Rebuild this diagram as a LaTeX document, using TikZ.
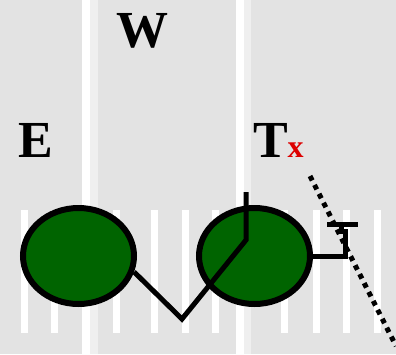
\documentclass[tikz,border=0pt]{standalone}
\usepackage{fontspec}
\setmainfont{Liberation Serif}
\usetikzlibrary{shapes.geometric}
\definecolor{bg}{HTML}{E3E3E3}
\definecolor{lightband}{HTML}{EFEFEF}
\definecolor{ballgreen}{HTML}{006400}
\definecolor{subred}{HTML}{DD0000}
\tikzset{
  ball/.style={ellipse, draw=black, fill=ballgreen, line width=6pt,
    minimum width=111pt, minimum height=96pt, inner sep=0pt},
  wire/.style={line width=5pt, line cap=butt, line join=miter},
  dotline/.style={line width=5pt, dash pattern=on 5pt off 5pt},
  bigletter/.style={anchor=base west, inner sep=0pt, outer sep=0pt,
    font=\bfseries\fontsize{52}{52}\selectfont},
  sublabel/.style={anchor=base west, inner sep=0pt, outer sep=0pt,
    text=subred, font=\bfseries\fontsize{32}{32}\selectfont},
  stripe/.style={fill=white},
}
\begin{document}
\begin{tikzpicture}[x=1pt,y=-1pt]
  \useasboundingbox (0,0) rectangle (396,354);
  % background
  \fill[bg] (0,0) rectangle (396,354);
  \fill[white] (82,0) rectangle (90,354);
  \fill[lightband] (90,0) rectangle (98,354);
  \fill[white] (236,0) rectangle (244,354);
  \fill[lightband] (244,0) rectangle (251,354);
  \foreach \sx in {21,51,113,151,182,212,281,313,343,374}
    \fill[stripe] (\sx,210) rectangle ++(7,123);
  % labels
  \node[bigletter] (W) at (116,47) {W};
  \node[bigletter] (E) at (18,157) {E};
  \node[bigletter] (T) at (253,157) {T};
  \node[sublabel] (X) at (T.base east) {x};
  % balls
  \node[ball] (e1) at (78.5,256) {};
  \node[ball] (e2) at (254.5,256) {};
  % zigzag
  \coordinate (v) at (182,319);
  \coordinate (k) at (246,240);
  \coordinate (ktop) at (246,192);
  \draw[wire] (e1.-16) -- (v) -- (k) -- (ktop);
  % right hook
  \coordinate (h1) at (345,256);
  \coordinate (h2) at (345,231);
  \coordinate (h3) at (341,231);
  \coordinate (h4) at (341,224);
  \coordinate (b1) at (327,224);
  \coordinate (b2) at (358,224);
  \draw[wire] (e2.east) -- (h1) -- (h2) -- (h3) -- (h4);
  \draw[wire] (b1) -- (b2);
  % dotted line
  \coordinate (d1) at (310,176);
  \coordinate (d2) at (396,346);
  \draw[dotline] (d1) -- (d2);
\end{tikzpicture}
\end{document}
